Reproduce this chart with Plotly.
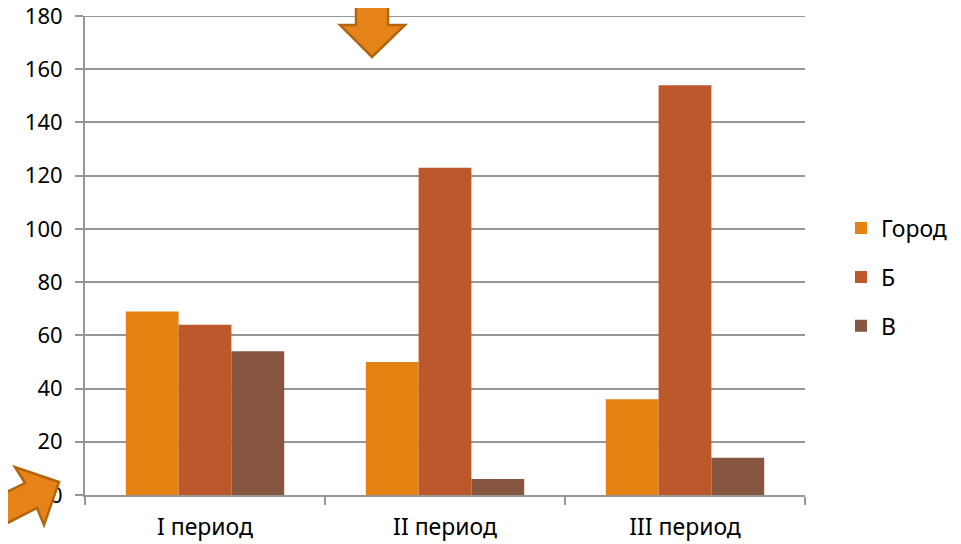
import plotly.graph_objects as go

categories = ["I период", "II период", "III период"]
series_names = ["Город", "Б", "В"]
gorod = [69, 50, 36]
b_vals = [64, 123, 154]
v_vals = [54, 6, 14]
colors = ["#E48312", "#BD582C", "#865640"]
y_ticks = [0, 20, 40, 60, 80, 100, 120, 140, 160, 180]

W, H = 961, 544
OFF = 8  # page body margin
# plot area as seen on the page
PL, PR, PT, PB = 85, 805, 16, 495
PW, PH = PR - PL, PB - PT
ML, MT = PL - OFF, PT - OFF
MR = W - (PR - OFF)
MB = H - (PB - OFF)

def px(x, y):
    return ((x - PL) / PW, (PB - y) / PH)

def path(points):
    pts = [px(x, y) for x, y in points]
    return "M " + " L ".join(f"{a:.5f},{b:.5f}" for a, b in pts) + " Z"

arrow_top = [(356, -12), (388, -12), (388, 25), (405, 25), (372, 57), (340, 25), (356, 25)]
arrow_bl = [(59, 482), (15, 467), (25, 483), (-20, 505), (-20, 537), (37, 508), (44, 525)]

fig = go.Figure()
for name, vals, col in zip(series_names, [gorod, b_vals, v_vals], colors):
    fig.add_trace(go.Bar(name=name, x=categories, y=vals, marker=dict(color=col, line=dict(width=0)),
                         legendgroup=name))

font = dict(family="Noto Sans, Liberation Sans, sans-serif", size=23, color="#000000")
grid = "#969696"

fig.update_layout(
    width=W, height=H,
    margin=dict(l=ML, r=MR, t=MT, b=MB, pad=0, autoexpand=False),
    paper_bgcolor="white", plot_bgcolor="white",
    font=font,
    barmode="group", bargap=0.34, bargroupgap=0,
    showlegend=True,
    legend=dict(x=1.05, xanchor="left", y=0.455, yanchor="middle", traceorder="grouped",
                tracegroupgap=16, font=font, bgcolor="rgba(0,0,0,0)"),
    xaxis=dict(showgrid=False, showline=True, linecolor=grid, linewidth=2, ticks="outside",
               tickson="boundaries", ticklen=8, tickwidth=2, tickcolor=grid, ticklabelstandoff=10,
               zeroline=False, fixedrange=True, automargin=False),
    yaxis=dict(range=[0, 180], tickvals=y_ticks, showgrid=True, gridcolor=grid, gridwidth=2,
               showline=True, linecolor=grid, linewidth=2, ticks="outside", ticklen=8, tickwidth=2,
               tickcolor=grid, zeroline=False, fixedrange=True, automargin=False,
               ticklabelstandoff=8, ticklabeloverflow="allow",
               tickfont=dict(family="Noto Sans, Liberation Sans, sans-serif", size=22, color="#000000")),
    shapes=[
        dict(type="line", xref="paper", yref="y", x0=-8 / PW, x1=1, y0=y_ticks[-1], y1=y_ticks[-1],
             line=dict(color=grid, width=2), layer="below"),
        dict(type="path", xref="paper", yref="paper", path=path(arrow_top),
             fillcolor="#E6841A", line=dict(color="#B3640E", width=2.5), layer="above"),
        dict(type="path", xref="paper", yref="paper", path=path(arrow_bl),
             fillcolor="#E6841A", line=dict(color="#B3640E", width=2.5), layer="above"),
    ],
)

fig.write_html("out.html")
